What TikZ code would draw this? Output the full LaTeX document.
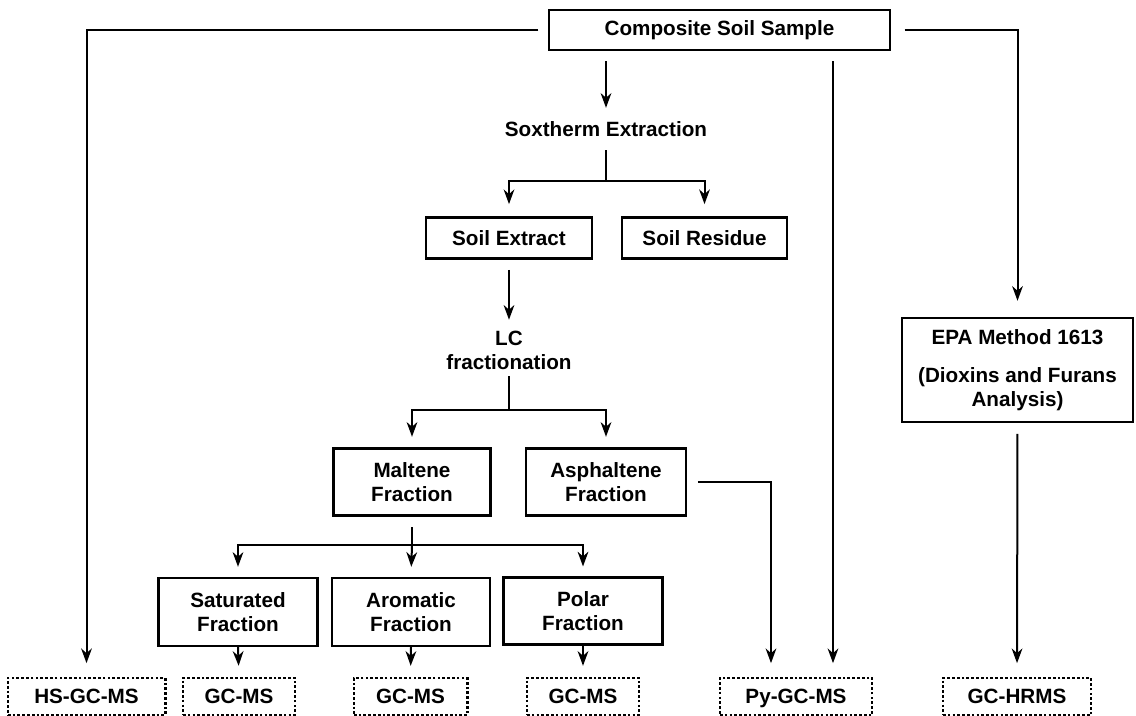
\documentclass[tikz,border=0pt]{standalone}
\usepackage{fontspec}
\setmainfont{Liberation Sans}
\usetikzlibrary{arrows.meta,calc}

\tikzset{
  lbl/.style={align=center, inner sep=0pt, font=\fontsize{15.5}{18}\selectfont\bfseries},
  box/.style={lbl, draw, line width=1.8pt},
  dotbox/.style={lbl, draw, line width=2pt, dash pattern=on 2pt off 1.6pt, minimum height=28pt, text height=11pt, text depth=0pt},
  ln/.style={line width=1.5pt},
  arr/.style={ln, -{Stealth[length=11pt,width=8pt,inset=3.5pt]}}
}

\begin{document}
\begin{tikzpicture}[x=0.75pt,y=0.75pt,yscale=-1,xscale=1]
\useasboundingbox (0,0) rectangle (1136,716);

% Boxes
\node[box, minimum width=256pt, minimum height=30pt] (comp) at (719.5,30) {Composite Soil Sample};
\node[box, minimum width=124.5pt, minimum height=31pt] (ext) at (509,238) {Soil Extract};
\node[box, minimum width=124pt, minimum height=31pt] (res) at (704.5,238) {Soil Residue};
\node[box, minimum width=118pt, minimum height=50pt] (malt) at (412,482) {Maltene\\Fraction};
\node[box, minimum width=120pt, minimum height=50pt] (asph) at (606,482) {Asphaltene\\Fraction};
\node[box, minimum width=119pt, minimum height=51pt] (sat) at (238,612) {Saturated\\Fraction};
\node[box, minimum width=118.5pt, minimum height=51pt] (arom) at (411,612) {Aromatic\\Fraction};
\node[box, minimum width=119pt, minimum height=50pt] (polar) at (583,611) {Polar\\Fraction};
\node[box, minimum width=173pt, minimum height=78pt] (epa) at (1017.5,370) {EPA Method 1613\\[10pt](Dioxins and Furans\\Analysis)};

% Text Node
\node[lbl] (sox) at (606,129) {Soxtherm Extraction};
% Text Node
\node[lbl] (lc) at (509,350) {LC\\fractionation};

% Dotted boxes
\node[dotbox, minimum width=118pt] (hs) at (86.5,696.5) {HS-GC-MS};
\node[dotbox, minimum width=84pt] (gca) at (239,696.5) {GC-MS};
\node[dotbox, minimum width=85pt] (gcb) at (410.5,696.5) {GC-MS};
\node[dotbox, minimum width=84pt] (gcc) at (583,696.5) {GC-MS};
\node[dotbox, minimum width=114pt] (py) at (796,696.5) {Py-GC-MS};
\node[dotbox, minimum width=111pt] (hrms) at (1017,696.5) {GC-HRMS};

% Split points
\coordinate (soxsplit) at (606,181);
\coordinate (lcsplit) at (509,410);
\coordinate (maltsplit) at (412,545);
\coordinate (pyleft) at ($(py.north)+(-25,0)$);
\coordinate (pyright) at ($(py.north)+(37,0)$);

%Straight Lines
\draw[arr, shorten <=7pt, shorten >=10pt] (comp.west) -| (hs.north);
\draw[arr, shorten <=10pt, shorten >=12pt] (comp.east) -| (epa.north);
\draw[arr, shorten <=7.5pt, shorten >=10pt] (comp.south -| pyright) -- (pyright);
\draw[arr, shorten <=7.5pt, shorten >=10pt] (comp.south -| sox.north) -- (sox.north);

%Straight Lines
\draw[ln, shorten <=10pt] (sox.south) -- (soxsplit);
\draw[arr, shorten >=9pt] (soxsplit) -| (ext.north);
\draw[arr, shorten >=9pt] (soxsplit) -| (res.north);
\draw[arr, shorten <=7.5pt, shorten >=8pt] (ext.south) -- (lc.north);

%Straight Lines
\draw[ln, shorten <=5pt] (lc.south) -- (lcsplit);
\draw[arr, shorten >=8pt] (lcsplit) -| (malt.north);
\draw[arr, shorten >=8pt] (lcsplit) -| (asph.north);
\draw[arr, shorten <=8pt, shorten >=10pt] (asph.east) -| (pyleft);

%Straight Lines
\draw[ln, shorten <=8pt] (malt.south) -- (maltsplit);
\draw[arr, shorten >=7.5pt] (maltsplit) -| (sat.north);
\draw[arr, shorten >=7.5pt] (maltsplit) -- (arom.north);
\draw[arr, shorten >=7.5pt] (maltsplit) -| (polar.north);

%Straight Lines
\draw[arr, shorten >=8pt] (sat.south) -- (gca.north);
\draw[arr, shorten >=8pt] (arom.south) -- (gcb.north);
\draw[arr, shorten >=8pt] (polar.south) -- (gcc.north);
\draw[arr, shorten <=8pt, shorten >=10pt] (epa.south) -- (hrms.north);
\end{tikzpicture}
\end{document}
